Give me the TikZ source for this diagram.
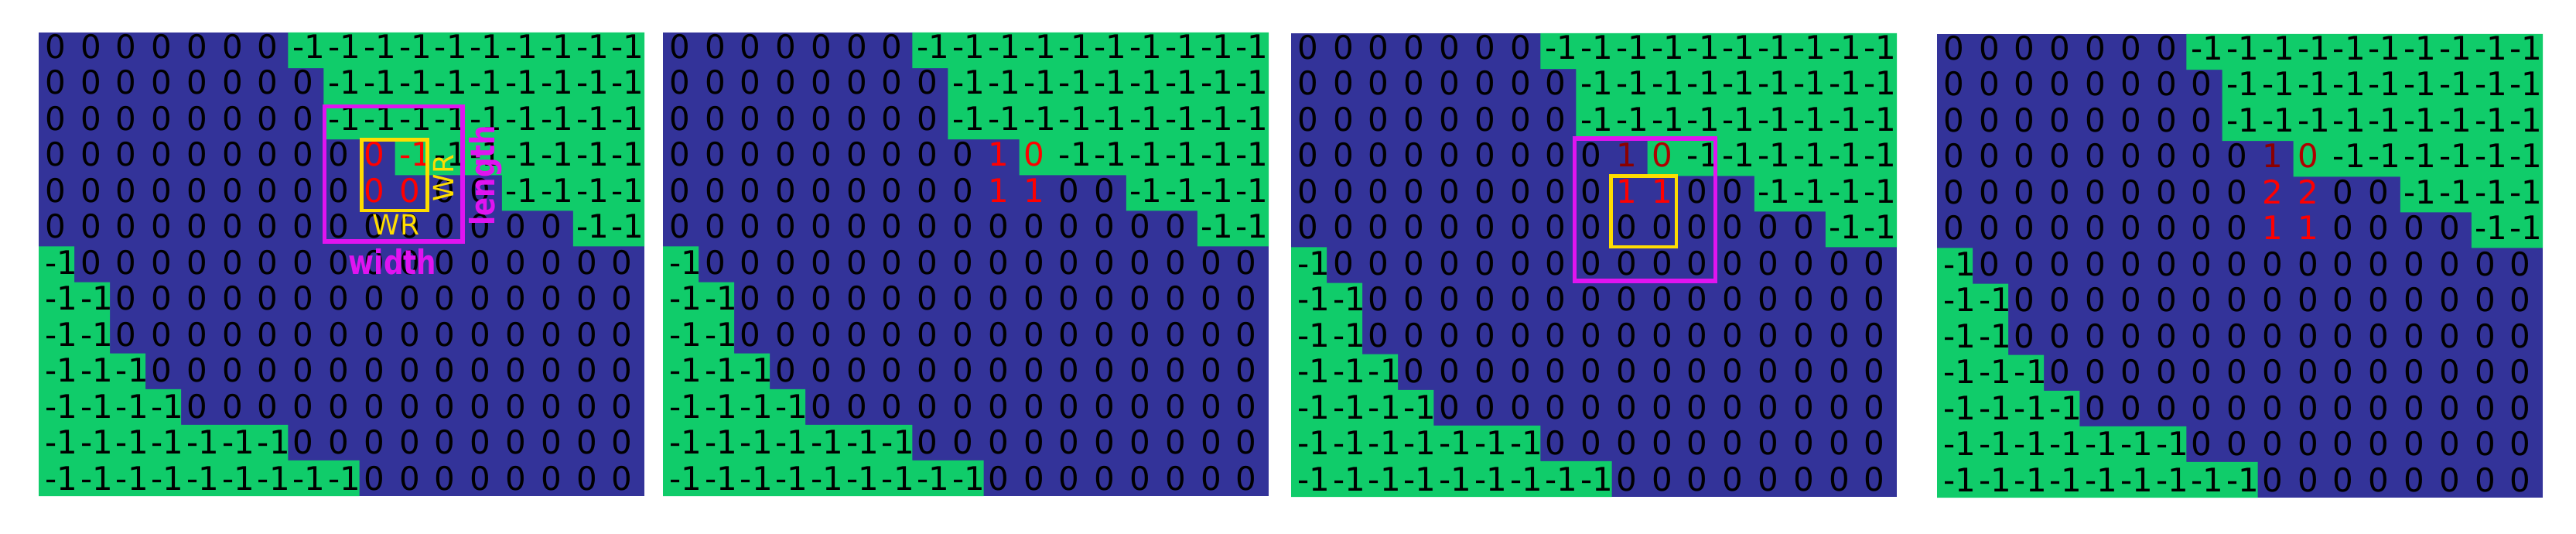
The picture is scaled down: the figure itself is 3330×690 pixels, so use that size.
\documentclass[tikz,border=0pt]{standalone}
\usepackage{fontspec}
\setmainfont{DejaVu Sans}
\newfontfamily\labfont[FakeStretch=0.82]{DejaVu Sans Bold}
\definecolor{bgc}{HTML}{333399}
\definecolor{grc}{HTML}{10CC6A}
\definecolor{mgc}{HTML}{E014F0}
\definecolor{ylc}{HTML}{FFDD00}
\definecolor{dkc}{HTML}{8B0000}
\definecolor{mdc}{HTML}{B00000}
\newcommand\cred[1]{\textcolor{red}{#1}}
\newcommand\cdark[1]{\textcolor{dkc}{#1}}
\newcommand\cmid[1]{\textcolor{mdc}{#1}}
\tikzset{
  num/.style={inner sep=0pt, anchor=base west, text=black, font=\fontsize{11.95}{14}\selectfont},
  wrlab/.style={inner sep=0pt, anchor=base, text=ylc, font=\fontsize{10.24}{12}\selectfont},
  biglab/.style={inner sep=0pt, anchor=base, text=mgc, font=\fontsize{12.38}{14}\labfont},
  mgbox/.style={draw=mgc, line width=0.55mm},
  ylbox/.style={draw=ylc, line width=0.45mm},
}
% #1 name, #2 left, #3 top, #4 row3, #5 row4, #6 row5
\newcommand\panelgrid[6]{%
  \fill[bgc] (#2,#3) rectangle ++(783,599);
  \begin{scope}[shift={(#2,#3)},x=4.606mm,y=-4.608mm]
    \fill[grc] (7,0)--(17,0)--(17,6)--(15,6)--(15,5)--(13,5)--(13,4)--(10,4)--(10,3)--(8,3)--(8,1)--(7,1)--cycle;
    \fill[grc] (0,6)--(1,6)--(1,7)--(2,7)--(2,9)--(3,9)--(3,10)--(4,10)--(4,11)--(7,11)--(7,12)--(9,12)--(9,13)--(0,13)--cycle;
  \end{scope}
  \foreach \rowlist [count=\ri from 0] in {
    {0,0,0,0,0,0,0,-1,-1,-1,-1,-1,-1,-1,-1,-1,-1},
    {0,0,0,0,0,0,0,0,-1,-1,-1,-1,-1,-1,-1,-1,-1},
    {0,0,0,0,0,0,0,0,-1,-1,-1,-1,-1,-1,-1,-1,-1},
    {#4},{#5},{#6},
    {-1,0,0,0,0,0,0,0,0,0,0,0,0,0,0,0,0},
    {-1,-1,0,0,0,0,0,0,0,0,0,0,0,0,0,0,0},
    {-1,-1,0,0,0,0,0,0,0,0,0,0,0,0,0,0,0},
    {-1,-1,-1,0,0,0,0,0,0,0,0,0,0,0,0,0,0},
    {-1,-1,-1,-1,0,0,0,0,0,0,0,0,0,0,0,0,0},
    {-1,-1,-1,-1,-1,-1,-1,0,0,0,0,0,0,0,0,0,0},
    {-1,-1,-1,-1,-1,-1,-1,-1,-1,0,0,0,0,0,0,0,0}}{
    \foreach \val [count=\ci from 0] in \rowlist {
      \node[num] (#1-\ri-\ci) at ({#2+7.6+\ci*45.78},{#3+33.5+\ri*46.5}) {\val};
    }
  }
}
\begin{document}
\begin{tikzpicture}[x=0.1mm,y=-0.1mm]
\useasboundingbox (0,0) rectangle (3330,690);
% panel 1
\panelgrid{pa}{50}{42}
  {0,0,0,0,0,0,0,0,0,\cred{0},\cred{-1},-1,-1,-1,-1,-1,-1}
  {0,0,0,0,0,0,0,0,0,\cred{0},\cred{0},0,0,-1,-1,-1,-1}
  {0,0,0,0,0,0,0,0,0,0,0,0,0,0,0,-1,-1}
\draw[mgbox] (419.3,137.5) rectangle (598,312);
\draw[ylbox] (467.5,180.5) rectangle (552.5,272);
\node[wrlab] (wrh) at (512,304) {WR};
\node[wrlab, rotate=90] (wrv) at (586.7,230) {WR};
\node[biglab] (wlab) at (507.5,355) {width};
\node[biglab, rotate=90] (llab) at (639.3,226.7) {length};
% panel 2
\panelgrid{pb}{857}{42}
  {0,0,0,0,0,0,0,0,0,\cred{1},\cred{0},-1,-1,-1,-1,-1,-1}
  {0,0,0,0,0,0,0,0,0,\cred{1},\cred{1},0,0,-1,-1,-1,-1}
  {0,0,0,0,0,0,0,0,0,0,0,0,0,0,0,-1,-1}
% panel 3
\panelgrid{pc}{1669}{43}
  {0,0,0,0,0,0,0,0,0,\cdark{1},\cmid{0},-1,-1,-1,-1,-1,-1}
  {0,0,0,0,0,0,0,0,0,\cred{1},\cred{1},0,0,-1,-1,-1,-1}
  {0,0,0,0,0,0,0,0,0,0,0,0,0,0,0,-1,-1}
\draw[mgbox] (2035.5,179) rectangle (2217.5,363);
\draw[ylbox] (2082.5,227.5) rectangle (2167,319);
% panel 4
\panelgrid{pd}{2504}{44}
  {0,0,0,0,0,0,0,0,0,\cdark{1},\cmid{0},-1,-1,-1,-1,-1,-1}
  {0,0,0,0,0,0,0,0,0,\cred{2},\cred{2},0,0,-1,-1,-1,-1}
  {0,0,0,0,0,0,0,0,0,\cred{1},\cred{1},0,0,0,0,-1,-1}
\end{tikzpicture}
\end{document}
